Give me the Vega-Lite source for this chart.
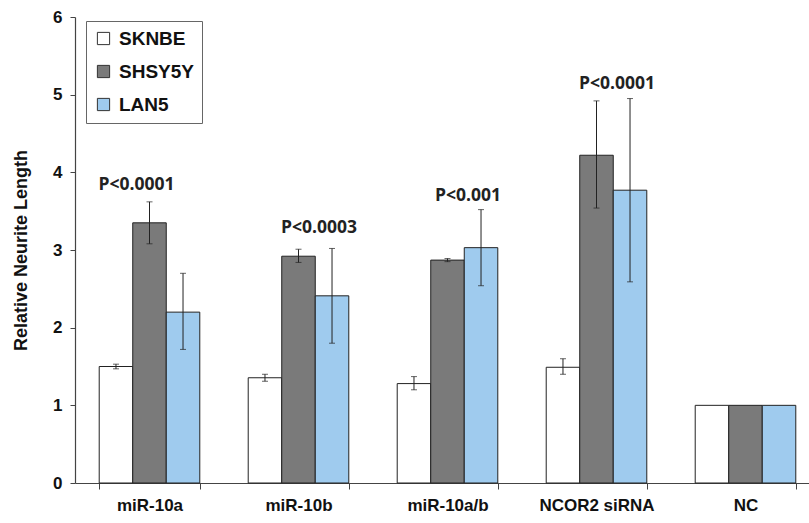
{
  "$schema": "https://vega.github.io/schema/vega-lite/v6.json",
  "width": 734,
  "height": 466,
  "autosize": "none",
  "padding": {"left": 75, "top": 17, "right": 0, "bottom": 40},
  "background": "white",
  "config": {
    "view": {"stroke": null},
    "font": "Liberation Sans",
    "axis": {"labelFont": "Liberation Sans", "titleFont": "Liberation Sans"}
  },
  "datasets": {
    "bars": [
      {"group": "miR-10a", "line": "SKNBE", "value": 1.5, "lo": 1.47, "hi": 1.53},
      {"group": "miR-10a", "line": "SHSY5Y", "value": 3.35, "lo": 3.08, "hi": 3.62},
      {"group": "miR-10a", "line": "LAN5", "value": 2.2, "lo": 1.72, "hi": 2.7},
      {"group": "miR-10b", "line": "SKNBE", "value": 1.355, "lo": 1.31, "hi": 1.4},
      {"group": "miR-10b", "line": "SHSY5Y", "value": 2.92, "lo": 2.84, "hi": 3.01},
      {"group": "miR-10b", "line": "LAN5", "value": 2.41, "lo": 1.8, "hi": 3.02},
      {"group": "miR-10a/b", "line": "SKNBE", "value": 1.28, "lo": 1.2, "hi": 1.37},
      {"group": "miR-10a/b", "line": "SHSY5Y", "value": 2.87, "lo": 2.85, "hi": 2.89},
      {"group": "miR-10a/b", "line": "LAN5", "value": 3.03, "lo": 2.54, "hi": 3.52},
      {"group": "NCOR2 siRNA", "line": "SKNBE", "value": 1.49, "lo": 1.4, "hi": 1.6},
      {"group": "NCOR2 siRNA", "line": "SHSY5Y", "value": 4.22, "lo": 3.54, "hi": 4.92},
      {"group": "NCOR2 siRNA", "line": "LAN5", "value": 3.77, "lo": 2.59, "hi": 4.95},
      {"group": "NC", "line": "SKNBE", "value": 1.0, "lo": null, "hi": null},
      {"group": "NC", "line": "SHSY5Y", "value": 1.0, "lo": null, "hi": null},
      {"group": "NC", "line": "LAN5", "value": 1.0, "lo": null, "hi": null}
    ],
    "labels": [
      {"group": "miR-10a", "line": "SHSY5Y", "y": 3.77, "text": "P<0.0001"},
      {"group": "miR-10b", "line": "LAN5", "y": 3.22, "text": "P<0.0003"},
      {"group": "miR-10a/b", "line": "LAN5", "y": 3.63, "text": "P<0.001"},
      {"group": "NCOR2 siRNA", "line": "LAN5", "y": 5.07, "text": "P<0.0001"}
    ]
  },
  "encoding": {
    "x": {
      "field": "group",
      "type": "nominal",
      "sort": ["miR-10a", "miR-10b", "miR-10a/b", "NCOR2 siRNA", "NC"],
      "scale": {"range": [0, 745], "paddingInner": 0.325, "paddingOuter": 0.1625},
      "axis": {
        "title": null,
        "labelAngle": 0,
        "labelFont": "Liberation Sans",
        "labelFontWeight": "bold",
        "labelFontSize": 17,
        "labelColor": "#111",
        "labelPadding": 8,
        "tickBand": "extent",
        "tickSize": 6,
        "tickColor": "#444",
        "domainColor": "#444",
        "domainWidth": 1.2
      }
    },
    "xOffset": {
      "field": "line",
      "type": "nominal",
      "sort": ["SKNBE", "SHSY5Y", "LAN5"],
      "scale": {"paddingInner": 0, "paddingOuter": 0}
    }
  },
  "layer": [
    {
      "data": {"name": "bars"},
      "mark": {"type": "bar", "stroke": "#222", "strokeWidth": 1},
      "encoding": {
        "y": {
          "field": "value",
          "type": "quantitative",
          "scale": {"domain": [0, 6], "nice": false},
          "axis": {
            "title": "Relative Neurite Length",
            "titleFontSize": 18,
            "titleFontWeight": "bold",
            "titleColor": "#111",
            "titlePadding": 22,
            "values": [0, 1, 2, 3, 4, 5, 6],
            "format": "d",
            "labelFontSize": 17,
            "labelFontWeight": "bold",
            "labelColor": "#111",
            "labelPadding": 8,
            "grid": false,
            "tickSize": 5,
            "tickColor": "#444",
            "domainColor": "#444",
            "domainWidth": 1.2
          }
        },
        "fill": {
          "field": "line",
          "type": "nominal",
          "sort": ["SKNBE", "SHSY5Y", "LAN5"],
          "scale": {"domain": ["SKNBE", "SHSY5Y", "LAN5"], "range": ["#ffffff", "#7a7a7a", "#9fcbee"]},
          "legend": {
            "title": null,
            "orient": "none",
            "legendX": 11,
            "legendY": 4,
            "symbolType": "square",
            "symbolSize": 150,
            "symbolStrokeColor": "#333",
            "symbolStrokeWidth": 1,
            "labelFont": "Liberation Sans",
            "labelFontSize": 19,
            "labelFontWeight": "bold",
            "labelColor": "#111",
            "labelOffset": 6,
            "rowPadding": 13,
            "padding": 8,
            "strokeColor": "#666",
            "fillColor": "white"
          }
        }
      }
    },
    {
      "data": {"name": "bars"},
      "transform": [{"filter": "datum.lo != null"}],
      "mark": {"type": "rule", "color": "#222", "strokeWidth": 1},
      "encoding": {
        "y": {"field": "lo", "type": "quantitative"},
        "y2": {"field": "hi"}
      }
    },
    {
      "data": {"name": "bars"},
      "transform": [{"filter": "datum.lo != null"}],
      "mark": {"type": "tick", "color": "#222", "size": 6, "thickness": 1},
      "encoding": {"y": {"field": "lo", "type": "quantitative"}}
    },
    {
      "data": {"name": "bars"},
      "transform": [{"filter": "datum.hi != null"}],
      "mark": {"type": "tick", "color": "#222", "size": 6, "thickness": 1},
      "encoding": {"y": {"field": "hi", "type": "quantitative"}}
    },
    {
      "data": {"name": "labels"},
      "mark": {"type": "text", "font": "Open Sans", "fontWeight": "bold", "fontSize": 17.5, "color": "#222", "baseline": "alphabetic", "dx": -13},
      "encoding": {
        "y": {"field": "y", "type": "quantitative"},
        "text": {"field": "text"}
      }
    }
  ]
}
